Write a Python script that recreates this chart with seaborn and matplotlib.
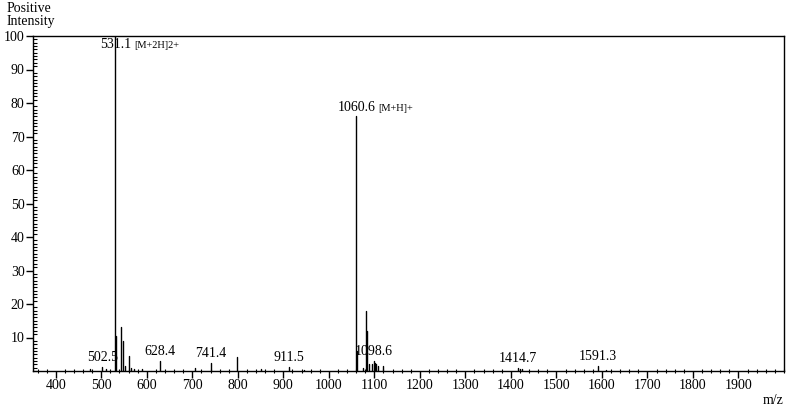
import matplotlib
matplotlib.use("Agg")
import matplotlib.pyplot as plt
from matplotlib.ticker import MultipleLocator
import seaborn as sns
import pandas as pd

# ---- data ----
peak_mz = [476.0, 502.5, 510.0, 531.1, 532.1, 543.8, 548.8, 552.0, 560.4, 566.0,
           572.0, 590.0, 628.4, 706.0, 741.4, 799.1, 850.0, 911.5, 945.0,
           1060.6, 1061.9, 1075.0, 1082.4, 1083.4, 1088.0, 1095.0, 1098.6,
           1101.0, 1103.0, 1108.0, 1120.0, 1414.7, 1419.0, 1425.0, 1591.3, 1610.0]
peak_int = [0.5, 1.2, 0.6, 100.0, 10.5, 13.0, 9.0, 1.5, 4.6, 0.8,
            0.7, 0.5, 3.0, 0.8, 2.5, 4.3, 0.5, 1.3, 0.4,
            76.0, 6.0, 1.0, 18.0, 12.0, 2.0, 2.2, 3.0,
            2.5, 2.2, 1.5, 1.5, 1.0, 0.6, 0.5, 1.5, 0.4]

label_mz = [502.5, 531.1, 628.4, 741.4, 911.5, 1060.6, 1098.6, 1414.7, 1591.3]
label_int = [1.2, 100.0, 3.0, 2.5, 1.3, 76.0, 3.0, 1.0, 1.5]
label_text = ["502.5", "531.1", "628.4", "741.4", "911.5", "1060.6", "1098.6", "1414.7", "1591.3"]
label_suffix = ["", "[M+2H]2+", "", "", "", "[M+H]+", "", "", ""]

x_ticks = [400, 500, 600, 700, 800, 900, 1000, 1100, 1200, 1300, 1400, 1500, 1600, 1700, 1800, 1900]
y_ticks = [10, 20, 30, 40, 50, 60, 70, 80, 90, 100]

# ---- build stem table ----
rows = []
for i, (m, h) in enumerate(zip(peak_mz, peak_int)):
    rows.append({"mz": m, "intensity": 0.0, "pid": i})
    rows.append({"mz": m, "intensity": h, "pid": i})
stems = pd.DataFrame(rows)

sns.set_theme(style="ticks")
plt.rcParams["font.family"] = ["Liberation Serif", "DejaVu Serif"]
plt.rcParams["font.size"] = 10

W, H, DPI = 809, 407, 100
fig = plt.figure(figsize=(W / DPI, H / DPI), dpi=DPI)
fig.patch.set_facecolor("white")
left, right, top, bottom = 33, 784, 36, 371
ax = fig.add_axes([left / W, 1 - bottom / H, (right - left) / W, (bottom - top) / H])
ax.set_facecolor("white")

sns.lineplot(data=stems, x="mz", y="intensity", units="pid", estimator=None,
             color="black", linewidth=1.0, ax=ax, legend=False, sort=False)

ax.set_xlim(350, 2000)
ax.set_ylim(0, 100)
ax.set_xlabel("")
ax.set_ylabel("")
for s in ax.spines.values():
    s.set_visible(True)
    s.set_color("black")
    s.set_linewidth(1.0)

ax.set_xticks(x_ticks)
ax.set_xticklabels([str(t) for t in x_ticks])
ax.set_yticks(y_ticks)
ax.set_yticklabels([str(t) for t in y_ticks])
ax.xaxis.set_minor_locator(MultipleLocator(20))
ax.yaxis.set_minor_locator(MultipleLocator(1))
ax.tick_params(axis="x", which="major", direction="out", length=5, width=1, colors="black",
               labelsize=10, pad=1)
ax.tick_params(axis="x", which="minor", direction="inout", length=3, width=0.8, colors="black")
ax.tick_params(axis="y", which="major", direction="out", length=5, width=1, colors="black",
               labelsize=10, pad=1)
ax.tick_params(axis="y", which="minor", direction="in", length=3, width=0.8, colors="black")
for lab in ax.get_xticklabels() + ax.get_yticklabels():
    lab.set_fontfamily(["Liberation Serif", "DejaVu Serif"])

# ---- peak labels ----
fig.canvas.draw()
renderer = fig.canvas.get_renderer()
for m, h, txt, suf in zip(label_mz, label_int, label_text, label_suffix):
    if h >= 99:
        y_anchor = 100
        dy = -8.5  # inside the frame just under the top
    else:
        y_anchor = h
        dy = 4
    t = ax.annotate(txt, xy=(m, y_anchor), xytext=(0, dy), textcoords="offset points",
                    ha="center", va="baseline", fontsize=10, color="black",
                    annotation_clip=False)
    if suf:
        bb = t.get_window_extent(renderer=renderer)
        half_w_pt = bb.width / 2 * 72 / DPI
        ax.annotate(suf, xy=(m, y_anchor), xytext=(half_w_pt + 2, dy),
                    textcoords="offset points", ha="left", va="baseline",
                    fontsize=7.5, color="black", annotation_clip=False)

fig.text(7 / W, 1 - 2 / H, "Positive\nIntensity", ha="left", va="top", fontsize=10,
         linespacing=1.0, color="black")
fig.text(784 / W, 1 - 400 / H, "m/z", ha="right", va="center", fontsize=10, color="black")

fig.savefig("out.png", dpi=DPI, facecolor="white")
